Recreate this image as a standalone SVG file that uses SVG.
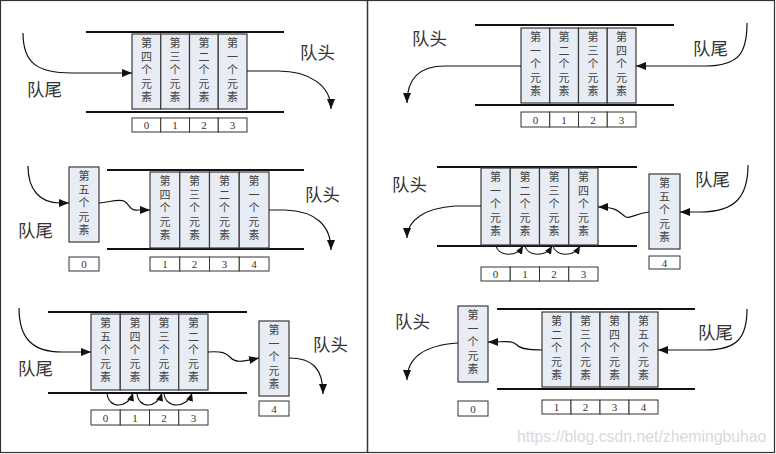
<svg xmlns="http://www.w3.org/2000/svg" width="776" height="454" viewBox="0 0 776 454">
<style>
.rail{stroke:#111;stroke-width:2;fill:none}
.cell{fill:#e8ecf5;stroke:#3a3a3a;stroke-width:1.2}
.v{font-family:"Noto Sans CJK SC","Noto Sans CJK JP",sans-serif;font-size:11px;fill:#444;writing-mode:vertical-rl;letter-spacing:2.5px}
.idx{fill:#fff;stroke:#333;stroke-width:1}
.n{font-family:"Liberation Serif",serif;font-size:11px;fill:#333;text-anchor:middle}
.lab{font-family:"Noto Sans CJK SC","Noto Sans CJK JP",sans-serif;font-size:17.5px;fill:#333}
.c{fill:none;stroke:#111;stroke-width:1.2;marker-end:url(#ah)}
.s{fill:none;stroke:#111;stroke-width:1.1;marker-end:url(#sh)}
</style>
<defs>
<marker id="ah" markerUnits="userSpaceOnUse" markerWidth="12" markerHeight="10" refX="10" refY="4" orient="auto"><path d="M0,0 L10,4 L0,8 Z" fill="#111"/></marker>
<marker id="sh" markerUnits="userSpaceOnUse" markerWidth="10" markerHeight="8" refX="8" refY="3.5" orient="auto"><path d="M0,0 L8,3.5 L0,7 Z" fill="#111"/></marker>
</defs>
<rect x="0.5" y="0.5" width="774" height="452" fill="#fff" stroke="#333" stroke-width="1.2"/>
<line x1="367.5" y1="0" x2="367.5" y2="453" stroke="#333" stroke-width="1.5"/>

<!-- Panel 1 -->
<g id="p1-rails"><path class="rail" d="M86,32H284M86,112H284"/></g>
<g id="p1-e4"><rect class="cell" x="132" y="34" width="28.75" height="75"/><text class="v" x="146.4" y="37.5">第四个元素</text></g>
<g id="p1-e3"><rect class="cell" x="160.75" y="34" width="28.75" height="75"/><text class="v" x="175.1" y="37.5">第三个元素</text></g>
<g id="p1-e2"><rect class="cell" x="189.5" y="34" width="28.75" height="75"/><text class="v" x="203.9" y="37.5">第二个元素</text></g>
<g id="p1-e1"><rect class="cell" x="218.25" y="34" width="28.75" height="75"/><text class="v" x="232.6" y="37.5">第一个元素</text></g>
<g id="p1-idx"><rect class="idx" x="132" y="118" width="28.75" height="14"/><rect class="idx" x="160.75" y="118" width="28.75" height="14"/><rect class="idx" x="189.5" y="118" width="28.75" height="14"/><rect class="idx" x="218.25" y="118" width="28.75" height="14"/><text class="n" x="146.4" y="129">0</text><text class="n" x="175.1" y="129">1</text><text class="n" x="203.9" y="129">2</text><text class="n" x="232.6" y="129">3</text></g>
<g id="p1-labels"><text class="lab" x="27" y="96">队尾</text><text class="lab" x="300" y="59">队头</text></g>

<!-- Panel 2 -->
<g id="p2-rails"><path class="rail" d="M107,170H304M107,249H304"/></g>
<g id="p2-e5"><rect class="cell" x="69" y="167" width="30" height="75"/><text class="v" x="84" y="170.5">第五个元素</text></g>
<g id="p2-e4"><rect class="cell" x="150" y="172" width="29.75" height="76"/><text class="v" x="164.9" y="175.5">第四个元素</text></g>
<g id="p2-e3"><rect class="cell" x="179.75" y="172" width="29.75" height="76"/><text class="v" x="194.6" y="175.5">第三个元素</text></g>
<g id="p2-e2"><rect class="cell" x="209.5" y="172" width="29.75" height="76"/><text class="v" x="224.4" y="175.5">第二个元素</text></g>
<g id="p2-e1"><rect class="cell" x="239.25" y="172" width="29.75" height="76"/><text class="v" x="254.1" y="175.5">第一个元素</text></g>
<g id="p2-idx"><rect class="idx" x="69" y="257" width="30" height="14"/><text class="n" x="84" y="268">0</text><rect class="idx" x="150" y="257" width="29.75" height="14"/><rect class="idx" x="179.75" y="257" width="29.75" height="14"/><rect class="idx" x="209.5" y="257" width="29.75" height="14"/><rect class="idx" x="239.25" y="257" width="29.75" height="14"/><text class="n" x="164.9" y="268">1</text><text class="n" x="194.6" y="268">2</text><text class="n" x="224.4" y="268">3</text><text class="n" x="254.1" y="268">4</text></g>
<g id="p2-labels"><text class="lab" x="18" y="237">队尾</text><text class="lab" x="305" y="201">队头</text></g>

<!-- Panel 3 -->
<g id="p3-rails"><path class="rail" d="M48,312H247M48,393H247"/></g>
<g id="p3-e5"><rect class="cell" x="91" y="314" width="29.25" height="76"/><text class="v" x="105.6" y="317.5">第五个元素</text></g>
<g id="p3-e4"><rect class="cell" x="120.25" y="314" width="29.25" height="76"/><text class="v" x="134.9" y="317.5">第四个元素</text></g>
<g id="p3-e3"><rect class="cell" x="149.5" y="314" width="29.25" height="76"/><text class="v" x="164.1" y="317.5">第三个元素</text></g>
<g id="p3-e2"><rect class="cell" x="178.75" y="314" width="29.25" height="76"/><text class="v" x="193.4" y="317.5">第二个元素</text></g>
<g id="p3-e1"><rect class="cell" x="259" y="321" width="30" height="75"/><text class="v" x="274" y="324.5">第一个元素</text></g>
<g id="p3-idx"><rect class="idx" x="91" y="410" width="29.25" height="15"/><rect class="idx" x="120.25" y="410" width="29.25" height="15"/><rect class="idx" x="149.5" y="410" width="29.25" height="15"/><rect class="idx" x="178.75" y="410" width="29.25" height="15"/><text class="n" x="105.6" y="421.5">0</text><text class="n" x="134.9" y="421.5">1</text><text class="n" x="164.1" y="421.5">2</text><text class="n" x="193.4" y="421.5">3</text><rect class="idx" x="259" y="401" width="30" height="15"/><text class="n" x="274" y="412.5">4</text></g>
<g id="p3-labels"><text class="lab" x="18" y="375">队尾</text><text class="lab" x="313" y="351">队头</text></g>

<!-- Panel 4 -->
<g id="p4-rails"><path class="rail" d="M475,25H674M475,105H674"/></g>
<g id="p4-e1"><rect class="cell" x="521" y="28" width="28.75" height="75"/><text class="v" x="535.4" y="31.5">第一个元素</text></g>
<g id="p4-e2"><rect class="cell" x="549.75" y="28" width="28.75" height="75"/><text class="v" x="564.1" y="31.5">第二个元素</text></g>
<g id="p4-e3"><rect class="cell" x="578.5" y="28" width="28.75" height="75"/><text class="v" x="592.9" y="31.5">第三个元素</text></g>
<g id="p4-e4"><rect class="cell" x="607.25" y="28" width="28.75" height="75"/><text class="v" x="621.6" y="31.5">第四个元素</text></g>
<g id="p4-idx"><rect class="idx" x="521" y="112" width="28.75" height="15"/><rect class="idx" x="549.75" y="112" width="28.75" height="15"/><rect class="idx" x="578.5" y="112" width="28.75" height="15"/><rect class="idx" x="607.25" y="112" width="28.75" height="15"/><text class="n" x="535.4" y="123.5">0</text><text class="n" x="564.1" y="123.5">1</text><text class="n" x="592.9" y="123.5">2</text><text class="n" x="621.6" y="123.5">3</text></g>
<g id="p4-labels"><text class="lab" x="412" y="45">队头</text><text class="lab" x="693" y="55">队尾</text></g>

<!-- Panel 5 -->
<g id="p5-rails"><path class="rail" d="M437,167H637M437,246H637"/></g>
<g id="p5-e1"><rect class="cell" x="481" y="168" width="29.25" height="77"/><text class="v" x="495.6" y="171.5">第一个元素</text></g>
<g id="p5-e2"><rect class="cell" x="510.25" y="168" width="29.25" height="77"/><text class="v" x="524.9" y="171.5">第二个元素</text></g>
<g id="p5-e3"><rect class="cell" x="539.5" y="168" width="29.25" height="77"/><text class="v" x="554.1" y="171.5">第三个元素</text></g>
<g id="p5-e4"><rect class="cell" x="568.75" y="168" width="29.25" height="77"/><text class="v" x="583.4" y="171.5">第四个元素</text></g>
<g id="p5-e5"><rect class="cell" x="649" y="174" width="31" height="75"/><text class="v" x="664.5" y="177.5">第五个元素</text></g>
<g id="p5-idx"><rect class="idx" x="481" y="267" width="29.25" height="14"/><rect class="idx" x="510.25" y="267" width="29.25" height="14"/><rect class="idx" x="539.5" y="267" width="29.25" height="14"/><rect class="idx" x="568.75" y="267" width="29.25" height="14"/><text class="n" x="495.6" y="278">0</text><text class="n" x="524.9" y="278">1</text><text class="n" x="554.1" y="278">2</text><text class="n" x="583.4" y="278">3</text><rect class="idx" x="649" y="256" width="31" height="13"/><text class="n" x="664.5" y="266.5">4</text></g>
<g id="p5-labels"><text class="lab" x="392" y="191">队头</text><text class="lab" x="695" y="186">队尾</text></g>

<!-- Panel 6 -->
<g id="p6-rails"><path class="rail" d="M497,309H695M497,389H695"/></g>
<g id="p6-e1"><rect class="cell" x="458" y="306" width="30" height="76"/><text class="v" x="473" y="309.5">第一个元素</text></g>
<g id="p6-e2"><rect class="cell" x="542" y="312" width="29" height="75"/><text class="v" x="556.5" y="315.5">第二个元素</text></g>
<g id="p6-e3"><rect class="cell" x="571" y="312" width="29" height="75"/><text class="v" x="585.5" y="315.5">第三个元素</text></g>
<g id="p6-e4"><rect class="cell" x="600" y="312" width="29" height="75"/><text class="v" x="614.5" y="315.5">第四个元素</text></g>
<g id="p6-e5"><rect class="cell" x="629" y="312" width="29" height="75"/><text class="v" x="643.5" y="315.5">第五个元素</text></g>
<g id="p6-idx"><rect class="idx" x="458" y="401" width="30" height="15"/><text class="n" x="473" y="412.5">0</text><rect class="idx" x="542" y="400" width="29" height="14"/><rect class="idx" x="571" y="400" width="29" height="14"/><rect class="idx" x="600" y="400" width="29" height="14"/><rect class="idx" x="629" y="400" width="29" height="14"/><text class="n" x="556.5" y="411">1</text><text class="n" x="585.5" y="411">2</text><text class="n" x="614.5" y="411">3</text><text class="n" x="643.5" y="411">4</text></g>
<g id="p6-labels"><text class="lab" x="395" y="328">队头</text><text class="lab" x="698" y="339">队尾</text></g>

<!-- Connectors -->
<g id="connectors">
<path class="c" d="M23,33 C23,62 36,73 72,73 L132,73"/>
<path class="c" d="M247,71 L278,71 C310,71 331,86 331,109"/>
<path class="c" d="M28,166 C28,190 40,203 60,203 L69,203"/>
<path class="c" d="M99,203 C110,202 118,199 124,201 C130,204 129,211 138,210 L150,210"/>
<path class="c" d="M269,210 L285,210 C315,211 331,225 331,250"/>
<path class="c" d="M19,308 C19,338 32,352 62,352 L91,352"/>
<path class="c" d="M208,352 C222,351 226,353 230,357 C235,363 241,362 259,358"/>
<path class="c" d="M289,358 C312,358 323,368 323,394"/>
<path class="s" d="M107,393 C108,409 128,409 133,393"/>
<path class="s" d="M137,393 C138,409 157,409 162,393"/>
<path class="s" d="M164,393 C165,409 187,409 192,393"/>
<path class="c" d="M747,23 C747,52 740,66 705,66 L636,66"/>
<path class="c" d="M521,66 L445,66 C420,66 407,78 407,103"/>
<path class="c" d="M748,165 C748,197 735,212 700,212 L680,212"/>
<path class="c" d="M649,212 C636,213 631,219 626,217 C619,213 619,207 598,207"/>
<path class="c" d="M481,206 L455,206 C425,208 407,220 407,238"/>
<path class="s" d="M496,246 C498,256 516,258 523,246"/>
<path class="s" d="M525,246 C527,256 545,258 552,246"/>
<path class="s" d="M553,246 C555,256 573,258 580,246"/>
<path class="c" d="M747,309 C747,337 738,350 705,350 L658,350"/>
<path class="c" d="M542,350 C528,350 521,349 517,345 C512,340 506,342 488,342"/>
<path class="c" d="M458,343 C428,345 407,355 407,380"/>
</g>
<text x="517" y="442" font-family="Liberation Sans, Arial, sans-serif" font-size="15.8" fill="#d9d9d9">https://blog.csdn.net/zhemingbuhao</text>
</svg>
